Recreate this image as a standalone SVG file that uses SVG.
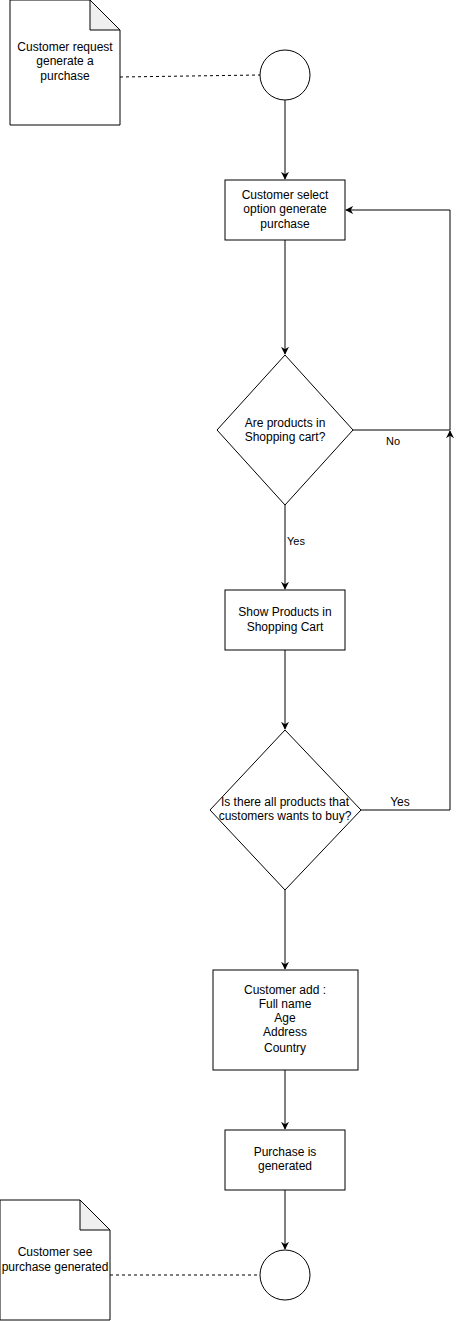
<svg xmlns="http://www.w3.org/2000/svg" width="459" height="1321" viewBox="0 0 459 1321">
  <style>
    .shape { fill: #ffffff; stroke: #000000; stroke-width: 1; }
    .fold { fill: #efefef; stroke: #000000; stroke-width: 1; }
    .edge { fill: none; stroke: #000000; stroke-width: 1; }
    .dash { fill: none; stroke: #000000; stroke-width: 1; stroke-dasharray: 3 3; }
    text { font-family: "Liberation Sans", Arial, sans-serif; font-size: 12px; fill: #000000; text-anchor: middle; }
    .lbl { font-size: 11px; }
  </style>
  <defs>
    <marker id="arrow" viewBox="0 0 10 10" refX="9" refY="5" markerWidth="8" markerHeight="8" markerUnits="userSpaceOnUse" orient="auto">
      <path d="M0,0 L10,5 L0,10 L3,5 Z" fill="#000000" stroke="none"/>
    </marker>
  </defs>

  <g id="connectors">
    <path class="dash" d="M120,77 L260,75"/>
    <path class="edge" d="M285,100 L285,179" marker-end="url(#arrow)"/>
    <path class="edge" d="M285,240 L285,354" marker-end="url(#arrow)"/>
    <path class="edge" d="M353,430 L450,430 L450,210 L346,210" marker-end="url(#arrow)"/>
    <text class="lbl" x="393" y="445">No</text>
    <path class="edge" d="M285,505 L285,589" marker-end="url(#arrow)"/>
    <text class="lbl" x="296" y="545">Yes</text>
    <path class="edge" d="M285,650 L285,729" marker-end="url(#arrow)"/>
    <path class="edge" d="M361,810 L450,810 L450,431" marker-end="url(#arrow)"/>
    <text x="400" y="806">Yes</text>
    <path class="edge" d="M285,890 L285,969" marker-end="url(#arrow)"/>
    <path class="edge" d="M285,1070 L285,1129" marker-end="url(#arrow)"/>
    <path class="edge" d="M285,1190 L285,1249" marker-end="url(#arrow)"/>
    <path class="dash" d="M110,1275 L260,1275"/>
  </g>

  <g id="doc-request">
    <path class="shape" d="M10,0 L90,0 L120,30 L120,125 L10,125 Z"/>
    <path class="fold" d="M90,0 L90,30 L120,30 Z"/>
    <text x="65" y="51">Customer request</text>
    <text x="65" y="65">generate a</text>
    <text x="65" y="80">purchase</text>
  </g>

  <g id="start">
    <circle class="shape" cx="285" cy="75" r="25"/>
  </g>

  <g id="select-option">
    <rect class="shape" x="225" y="180" width="120" height="60"/>
    <text x="285" y="199">Customer select</text>
    <text x="285" y="213">option generate</text>
    <text x="285" y="228">purchase</text>
  </g>

  <g id="products-in-cart">
    <path class="shape" d="M285,355 L353,430 L285,505 L217,430 Z"/>
    <text x="285" y="427">Are products in</text>
    <text x="285" y="441">Shopping cart?</text>
  </g>

  <g id="show-products">
    <rect class="shape" x="225" y="590" width="120" height="60"/>
    <text x="285" y="616">Show Products in</text>
    <text x="285" y="631">Shopping Cart</text>
  </g>

  <g id="all-products">
    <path class="shape" d="M285,730 L361,810 L285,890 L210,810 Z"/>
    <text x="285" y="806">Is there all products that</text>
    <text x="285" y="820">customers wants to buy?</text>
  </g>

  <g id="customer-add">
    <rect class="shape" x="213" y="970" width="145" height="100"/>
    <text x="285" y="994">Customer add :</text>
    <text x="285" y="1008">Full name</text>
    <text x="285" y="1022">Age</text>
    <text x="285" y="1036">Address</text>
    <text x="285" y="1052">Country</text>
  </g>

  <g id="purchase-generated">
    <rect class="shape" x="225" y="1130" width="120" height="60"/>
    <text x="285" y="1156">Purchase is</text>
    <text x="285" y="1170">generated</text>
  </g>

  <g id="end">
    <circle class="shape" cx="285" cy="1275" r="25"/>
  </g>

  <g id="doc-see">
    <path class="shape" d="M0,1200 L80,1200 L110,1230 L110,1320 L0,1320 Z"/>
    <path class="fold" d="M80,1200 L80,1230 L110,1230 Z"/>
    <text x="55" y="1256">Customer see</text>
    <text x="55" y="1271">purchase generated</text>
  </g>
</svg>
